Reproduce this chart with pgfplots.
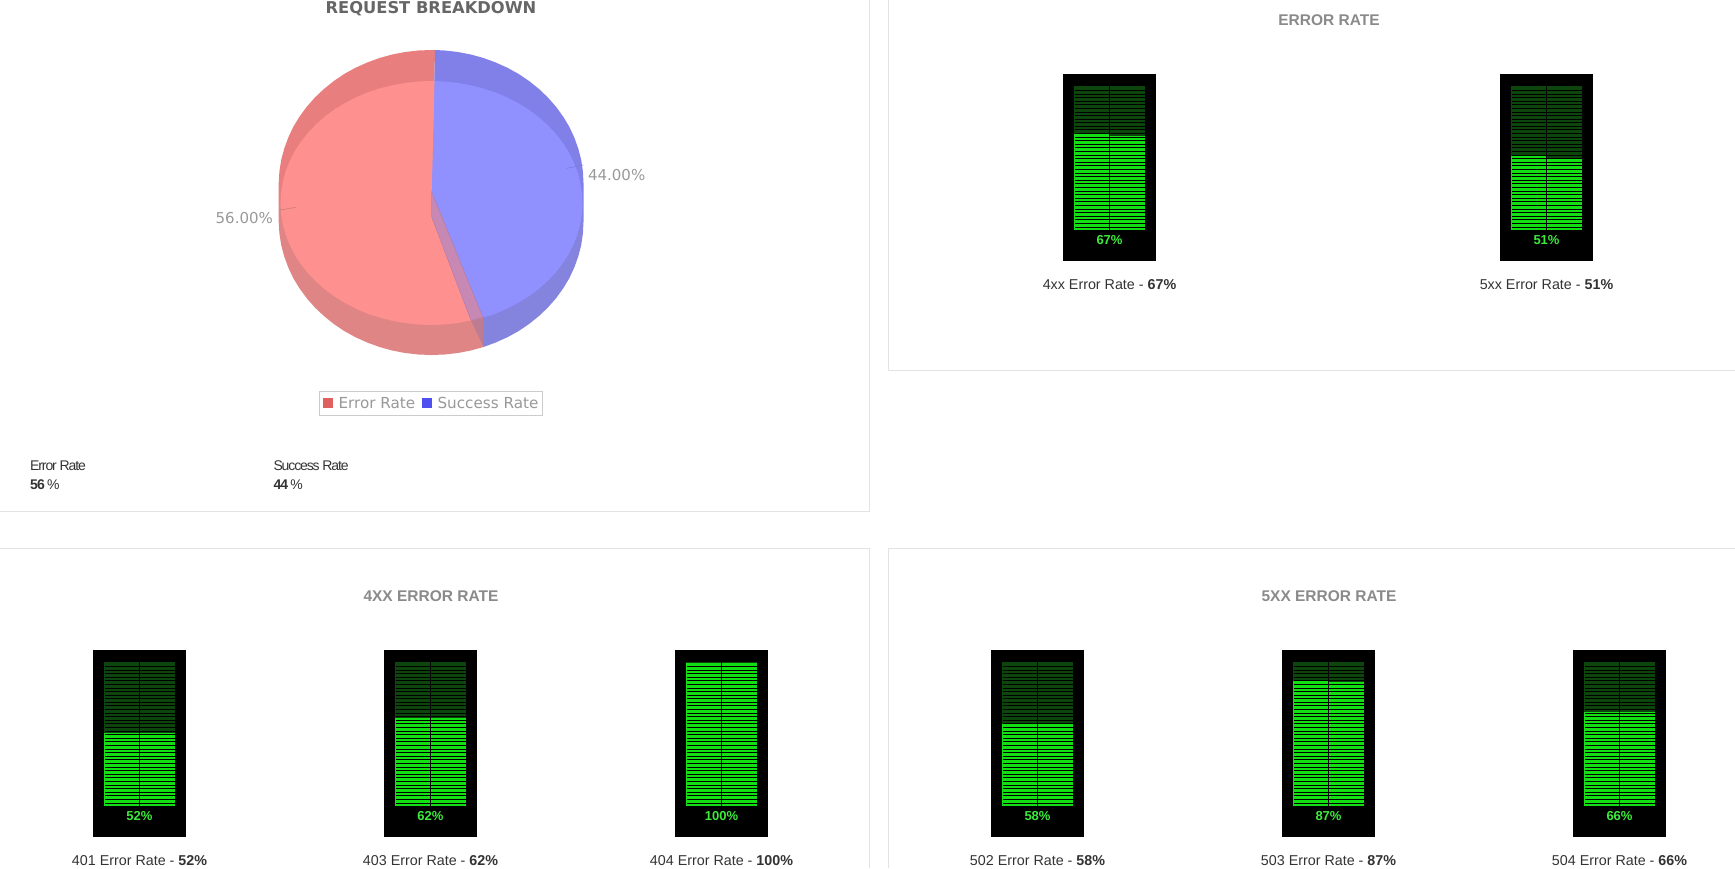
\documentclass[border=0pt]{standalone}
\usepackage{fontspec}
\usepackage{pgfplots}
\pgfplotsset{compat=1.18}
\setmainfont{Liberation Sans}
\newfontfamily\dejavu{DejaVu Sans}

\definecolor{panel}{HTML}{E3E3E3}
\definecolor{head}{HTML}{8A8A8A}
\definecolor{cap}{HTML}{333333}
\definecolor{lit}{HTML}{12E012}
\definecolor{unlit}{HTML}{0C460C}
\definecolor{readout}{HTML}{3CEB3C}
\definecolor{rimRedUp}{HTML}{E87E7E}
\definecolor{rimRedLo}{HTML}{DF8585}
\definecolor{rimBlueUp}{HTML}{8080E8}
\definecolor{rimBlueLo}{HTML}{8484DF}
\definecolor{faceRed}{HTML}{FF9090}
\definecolor{faceBlue}{HTML}{9090FF}
\definecolor{wall}{HTML}{C888B4}
\definecolor{wallEdge}{HTML}{AA7DAF}
\definecolor{wallLow}{HTML}{BE7C92}
\definecolor{leadRed}{HTML}{C87878}
\definecolor{leadBlue}{HTML}{7A7AD8}
\definecolor{legEdge}{HTML}{CCCCCC}
\definecolor{legRed}{HTML}{E06060}
\definecolor{legBlue}{HTML}{5050F0}
\definecolor{pielabel}{HTML}{999999}
\definecolor{pietitle}{HTML}{666666}

\newcommand{\px}[1]{\fontsize{#1}{#1}\selectfont}

% led rows of a meter, as black gaps across both channels
\newcommand{\gaps}{(2.01,2.0)(2.01,4.52)(2.01,7.03)(2.01,9.55)(2.01,12.07)(2.01,14.59)(2.01,17.1)(2.01,19.62)(2.01,22.14)(2.01,24.66)(2.01,27.17)(2.01,29.69)(2.01,32.21)(2.01,34.72)(2.01,37.24)(2.01,39.76)(2.01,42.28)(2.01,44.79)(2.01,47.31)(2.01,49.83)(2.01,52.34)(2.01,54.86)(2.01,57.38)(2.01,59.9)(2.01,62.41)(2.01,64.93)(2.01,67.45)(2.01,69.97)(2.01,72.48)(2.01,75)(2.01,77.52)(2.01,80.03)(2.01,82.55)(2.01,85.07)(2.01,87.59)(2.01,90.1)(2.01,92.62)(2.01,95.14)(2.01,97.66)}

% one vu meter: left edge, bottom edge (from page bottom, in px), left and right channel
\newcommand{\meter}[5]{%
\begin{axis}[
  at={(#1pt,#2pt)},anchor=south west,scale only axis,width=93pt,height=187pt,
  xmin=-0.33,xmax=2.33,ymin=-21.7,ymax=109.1,ticks=none,axis line style={draw=none},
  axis background/.style={fill=black},clip=false]
  \addplot[fill=unlit,draw=none] coordinates {(-0.01,#3)(-0.01,100.5)(0.985,100.5)(0.985,#3)};
  \addplot[fill=unlit,draw=none] coordinates {(1.015,#4)(1.015,100.5)(2.01,100.5)(2.01,#4)};
  \addplot[fill=lit,draw=none] coordinates {(-0.01,0)(-0.01,#3)(0.985,#3)(0.985,0)};
  \addplot[fill=lit,draw=none] coordinates {(1.015,0)(1.015,#4)(2.01,#4)(2.01,0)};
  \addplot[xcomb,black,line width=0.9pt] coordinates {\gaps};
  \node[text=readout,font=\bfseries\px{13}] at (axis cs:1,-7) {#5};
\end{axis}}

\begin{document}
\begin{tikzpicture}
\begin{axis}[
  at={(0pt,0pt)},anchor=south west,scale only axis,width=1735pt,height=868pt,
  xmin=0,xmax=1735,ymin=0,ymax=868,y dir=reverse,hide axis,clip=true]

% panels
\addplot[panel,line width=1pt] coordinates {(0,511.5)(869.5,511.5)(869.5,0)};
\addplot[panel,line width=1pt] coordinates {(888,0)(888,370)(1735,370)};
\addplot[panel,line width=1pt] coordinates {(0,548)(869.5,548)(869.5,868)};
\addplot[panel,line width=1pt] coordinates {(1735,548)(888,548)(888,868)};

% pie rims
\addplot[fill=rimRedUp,draw=none] coordinates {(431.7,203)(278.7,203)(278.7,183)(279.4,171.4)(281.2,159.9)(284.2,148.6)(288.3,137.5)(293.3,126.8)(299.6,116.5)(306.8,106.7)(314.9,97.5)(323.9,89)(333.7,81.1)(344.2,74)(355.4,67.8)(367.2,62.5)(379.5,58)(392.2,54.5)(405.1,52)(418.2,50.5)(431.5,50)(435,50)};
\addplot[fill=rimRedLo,draw=none] coordinates {(431.7,203)(278.7,203)(278.7,222)(279.4,233.6)(281.2,245.1)(284.2,256.4)(288.3,267.5)(293.3,278.2)(299.6,288.5)(306.8,298.3)(314.9,307.5)(323.9,316)(333.7,323.9)(344.2,331)(355.4,337.2)(367.2,342.5)(379.5,347)(392.2,350.5)(405.1,353)(418.2,354.5)(431.5,355)(444.8,354.5)(457.9,353)(470.8,350.5)(483.5,347)};
\addplot[fill=rimBlueUp,draw=none] coordinates {(431.7,203)(435,50)(444.8,50.5)(457.9,52)(470.8,54.5)(483.5,58)(495.7,62.5)(507.5,67.8)(518.7,74)(529.2,81.1)(539,89)(547.9,97.5)(556,106.7)(563.1,116.5)(569.3,126.8)(574.3,137.5)(578.3,148.6)(581.2,159.9)(582.9,171.4)(583.5,183)(583.5,203)};
\addplot[fill=rimBlueLo,draw=none] coordinates {(431.7,203)(583.5,203)(583.5,222)(582.9,233.6)(581.2,245.1)(578.3,256.4)(574.3,267.5)(569.3,278.2)(563.1,288.5)(556,298.3)(547.9,307.5)(539,316)(529.2,323.9)(518.7,331)(507.5,337.2)(495.7,342.5)(483.5,347)};

% pie faces: 56.00 and 44.00 percent
\addplot[fill=faceBlue,draw=none] coordinates {(431.7,192)(434.5,81)(444.7,81.5)(457.7,82.9)(470.6,85.2)(483.1,88.4)(495.3,92.4)(507,97.3)(518.1,103.1)(528.6,109.5)(538.3,116.7)(547.2,124.6)(555.2,133)(562.3,142)(568.4,151.4)(573.4,161.3)(577.4,171.4)(580.2,181.8)(581.9,192.4)(582.5,203)(581.9,213.6)(580.2,224.2)(577.4,234.6)(573.4,244.7)(568.4,254.6)(562.3,264)(555.2,273)(547.2,281.4)(538.3,289.3)(528.6,296.5)(518.1,302.9)(507,308.7)(495.3,313.8)(483.1,317.6)};
\addplot[fill=faceRed,draw=none] coordinates {(434.5,81)(431.5,81)(418.3,81.5)(405.3,82.9)(392.4,85.2)(379.9,88.4)(367.7,92.4)(356,97.3)(344.9,103.1)(334.4,109.5)(324.7,116.7)(315.8,124.6)(307.8,133)(300.7,142)(294.6,151.4)(289.6,161.3)(285.6,171.4)(282.8,181.8)(281.1,192.4)(280.5,203)(281.1,213.6)(282.8,224.2)(285.6,234.6)(289.6,244.7)(294.6,254.6)(300.7,264)(307.8,273)(315.8,281.4)(324.7,289.3)(334.4,296.5)(344.9,302.9)(356,308.7)(367.7,313.8)(379.9,317.6)(392.4,320.8)(405.3,323.1)(418.3,324.5)(431.5,325)(444.7,324.5)(457.7,323.1)(471,320.5)(431.7,217)(431.7,192)};
\addplot[fill=wall,draw=wallEdge,line width=0.4pt] coordinates {(431.7,192)(431.7,217)(471,320.5)(483.1,317.6)} -- cycle;
\addplot[fill=wallLow,draw=none] coordinates {(471,320.5)(483.1,317.6)(483.5,347)};

% leaders
\addplot[leadRed,line width=0.5pt] coordinates {(280,210)(296,207.3)};
\addplot[leadBlue,line width=0.5pt] coordinates {(566.7,168.3)(583.3,165)};

% legend of the pie
\addplot[fill=white,draw=legEdge,line width=1pt] coordinates {(319.5,391)(542.5,391)(542.5,415.3)(319.5,415.3)} -- cycle;
\addplot[fill=legRed,draw=none] coordinates {(323.3,398.3)(333.3,398.3)(333.3,408.3)(323.3,408.3)};
\addplot[fill=legBlue,draw=none] coordinates {(421.7,398.3)(431.7,398.3)(431.7,408.3)(421.7,408.3)};

\node[text=pielabel,font=\dejavu\px{15.2},anchor=west,inner sep=0pt] at (axis cs:338.3,403.3) {Error Rate};
\node[text=pielabel,font=\dejavu\px{15.2},anchor=west,inner sep=0pt] at (axis cs:437.3,403.3) {Success Rate};
\node[text=pielabel,font=\dejavu\px{15},inner sep=0pt] at (axis cs:244.3,218.3) {56.00\%};
\node[text=pielabel,font=\dejavu\px{15},inner sep=0pt] at (axis cs:616.7,175) {44.00\%};

% titles
\node[text=pietitle,font=\dejavu\bfseries\px{16.3},inner sep=0pt] at (axis cs:431,9) {REQUEST BREAKDOWN};
\node[text=head,font=\bfseries\px{15.5},inner sep=0pt] at (axis cs:1329,20.5) {ERROR RATE};
\node[text=head,font=\bfseries\px{15.5},inner sep=0pt] at (axis cs:431,596.5) {4XX ERROR RATE};
\node[text=head,font=\bfseries\px{15.5},inner sep=0pt] at (axis cs:1329,596.5) {5XX ERROR RATE};

% figures under the pie
\node[text=cap,font=\px{14},anchor=west,inner sep=0pt] at (axis cs:30,466) {\addfontfeature{LetterSpace=-8}Error Rate};
\node[text=cap,font=\px{14},anchor=west,inner sep=0pt] at (axis cs:273.3,466) {\addfontfeature{LetterSpace=-8}Success Rate};
\node[text=cap,font=\px{14},anchor=west,inner sep=0pt] at (axis cs:30,485) {\addfontfeature{LetterSpace=-6}\textbf{56} \%};
\node[text=cap,font=\px{14},anchor=west,inner sep=0pt] at (axis cs:273.3,485) {\addfontfeature{LetterSpace=-6}\textbf{44} \%};

% captions
\node[text=cap,font=\px{14.3},inner sep=0pt] at (axis cs:1109.5,285) {4xx Error Rate - \textbf{67\%}};
\node[text=cap,font=\px{14.3},inner sep=0pt] at (axis cs:1546.5,285) {5xx Error Rate - \textbf{51\%}};
\node[text=cap,font=\px{14.3},inner sep=0pt] at (axis cs:139.5,860.5) {401 Error Rate - \textbf{52\%}};
\node[text=cap,font=\px{14.3},inner sep=0pt] at (axis cs:430.5,860.5) {403 Error Rate - \textbf{62\%}};
\node[text=cap,font=\px{14.3},inner sep=0pt] at (axis cs:721.5,860.5) {404 Error Rate - \textbf{100\%}};
\node[text=cap,font=\px{14.3},inner sep=0pt] at (axis cs:1037.5,860.5) {502 Error Rate - \textbf{58\%}};
\node[text=cap,font=\px{14.3},inner sep=0pt] at (axis cs:1328.5,860.5) {503 Error Rate - \textbf{87\%}};
\node[text=cap,font=\px{14.3},inner sep=0pt] at (axis cs:1619.5,860.5) {504 Error Rate - \textbf{66\%}};
\end{axis}

\meter{1063}{607}{67}{66}{67\%}
\meter{1500}{607}{51.7}{50.3}{51\%}
\meter{93}{31}{51}{51}{52\%}
\meter{384}{31}{61.8}{61.8}{62\%}
\meter{675}{31}{100}{100}{100\%}
\meter{991}{31}{57.5}{57.5}{58\%}
\meter{1282}{31}{87.4}{86.7}{87\%}
\meter{1573}{31}{65.7}{65.7}{66\%}
\end{tikzpicture}
\end{document}
